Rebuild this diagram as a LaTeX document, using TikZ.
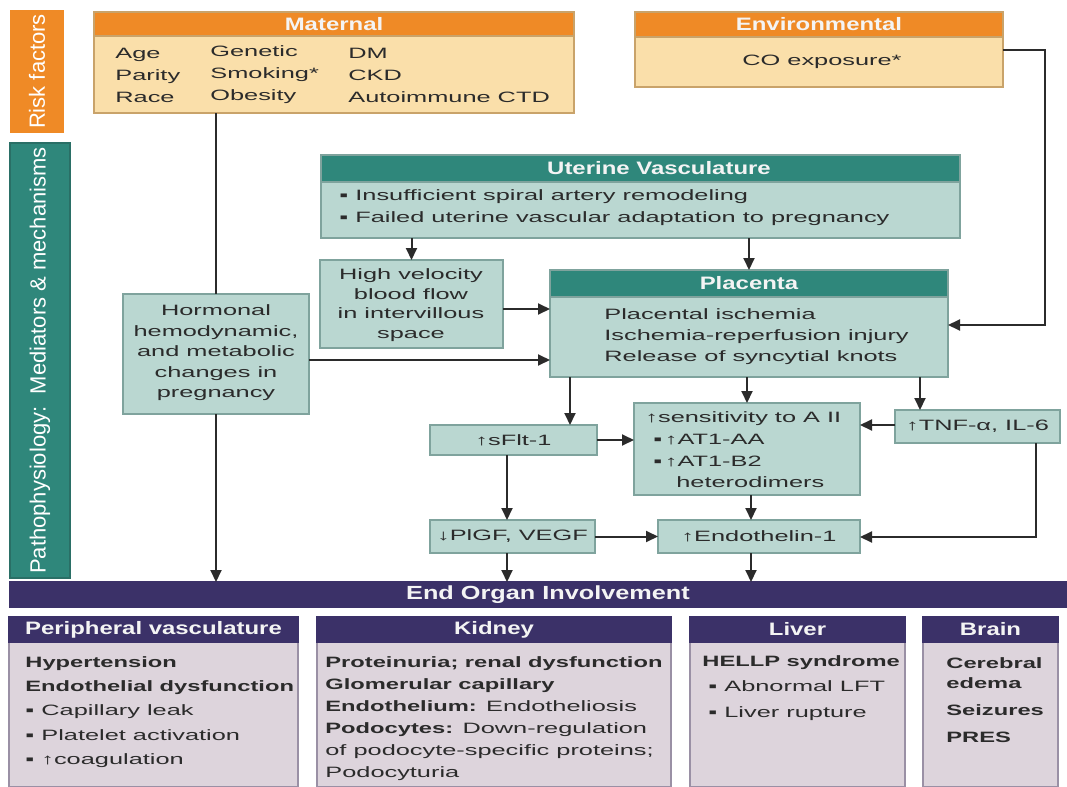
\documentclass[tikz,border=0pt]{standalone}
\usepackage{fontspec}
\setmainfont{Liberation Sans}[UprightFeatures={FakeStretch=1.69},BoldFeatures={FakeStretch=1.58}]
\newfontfamily\rotfont{Liberation Sans}
\newfontfamily\hdfont{Liberation Sans}[FakeStretch=1.33]
\usetikzlibrary{arrows.meta,fit}
\newcommand\myfs[2]{\fontsize{#1}{#2}\selectfont}
\definecolor{orH}{HTML}{EF8A26}
\definecolor{orB}{HTML}{FADFAA}
\definecolor{orL}{HTML}{C9A36A}
\definecolor{tlH}{HTML}{2F877B}
\definecolor{tlD}{HTML}{2A6F66}
\definecolor{tlB}{HTML}{BAD7D1}
\definecolor{tlL}{HTML}{7FA39D}
\definecolor{puH}{HTML}{3B3168}
\definecolor{puB}{HTML}{DDD4DC}
\definecolor{puL}{HTML}{9A90A5}
\definecolor{txtc}{HTML}{2B2B2B}
\definecolor{linec}{HTML}{2B2B2B}
\definecolor{hdc}{HTML}{F4F4F4}
\begin{document}
\begin{tikzpicture}[x=0.5pt,y=-0.5pt,
  box/.style={inner sep=0pt,outer sep=0pt,line width=0.6pt},
  orhead/.style={box,fill=orH,draw=orL},
  orbody/.style={box,fill=orB,draw=orL},
  tlhead/.style={box,fill=tlH,draw=tlL},
  tlbody/.style={box,fill=tlB,draw=tlL},
  puhead/.style={box,fill=puH,draw=puH},
  pubody/.style={box,fill=puB,draw=puL},
  txt/.style={inner sep=0pt,text=txtc,font=\myfs{7.5}{11}},
  hdtxt/.style={inner sep=0pt,text=hdc,font=\hdfont\bfseries\myfs{9}{10}},
  rottxt/.style={inner sep=0pt,text=white,rotate=90,font=\rotfont\myfs{11}{13}},
  arr/.style={draw=linec,line width=1pt,-{Triangle[length=6pt,width=5.5pt]}},
  ln/.style={draw=linec,line width=1pt}]

\useasboundingbox (0,0) rectangle (1067,787);
\fill[white] (0,0) rectangle (1067,787);

% side bars
\node[box,fill=orH,fit={(10,10)(64,133)}] (rfbar) {};
\node[rottxt] (rftxt) at (rfbar.center) {Risk factors};
\node[box,fill=tlH,draw=tlD,fit={(10,143)(70,578)}] (ppbar) {};
\node[rottxt] (pptxt) at (ppbar.center) {Pathophysiology:\ \ Mediators \& mechanisms};

% maternal
\node[orbody,fit={(94,36)(574,113)}] (matB) {};
\node[orhead,fit={(94,12)(574,36)}] (matH) {};
\node[hdtxt] (matT) at (matH.center) {Maternal};
\node[txt,align=left,anchor=west] (mc1) at (115,75) {Age\\Parity\\Race};
\node[txt,align=left,anchor=west] (mc2) at (210,75) {Genetic\\Smoking*\\Obesity};
\node[txt,align=left,anchor=west] (mc3) at (348,75) {DM\\CKD\\Autoimmune CTD};

% environmental
\node[orbody,fit={(635,37)(1003,87)}] (envB) {};
\node[orhead,fit={(635,12)(1003,37)}] (envH) {};
\node[hdtxt] (envT) at (envH.center) {Environmental};
\node[txt] (envX) at (822,62) {CO exposure*};

% uterine vasculature
\node[tlbody,fit={(321,182)(960,238)}] (uvB) {};
\node[tlhead,fit={(321,155)(960,182)}] (uvH) {};
\node[hdtxt] (uvT) at (659,168) {Uterine Vasculature};
\node[txt,align=left,anchor=west] (uvX) at (339,208) {▪ Insufficient spiral artery remodeling\\▪ Failed uterine vascular adaptation to pregnancy};

% high velocity
\node[tlbody,fit={(320,260)(503,348)}] (hvB) {};
\node[txt,align=center,font=\myfs{7.5}{9.75}] (hvX) at (411,305) {High velocity\\blood flow\\in intervillous\\space};

% placenta
\node[tlbody,fit={(550,297)(948,377)}] (plB) {};
\node[tlhead,fit={(550,270)(948,297)}] (plH) {};
\node[hdtxt] (plT) at (plH.center) {Placenta};
\node[txt,align=left,anchor=west,font=\myfs{7.5}{10.5}] (plX) at (604,337) {Placental ischemia\\Ischemia-reperfusion injury\\Release of syncytial knots};

% hormonal
\node[tlbody,fit={(123,294)(309,414)}] (horB) {};
\node[txt,align=center,font=\myfs{7.5}{10.25}] (horX) at (216,353) {Hormonal\\hemodynamic,\\and metabolic\\changes in\\pregnancy};

% mediators
\node[tlbody,fit={(430,425)(597,455)}] (sfB) {};
\node[txt] (sfX) at (sfB.center) {↑sFlt-1};
\node[tlbody,fit={(634,403)(860,495)}] (seB) {};
\node[txt,align=left,anchor=west,font=\myfs{7.5}{10.8}] (seX) at (645,450) {↑sensitivity to A II\\\hspace*{4pt}▪\,↑AT1-AA\\\hspace*{4pt}▪\,↑AT1-B2\\\hspace*{15.5pt}heterodimers};
\node[tlbody,fit={(895,410)(1060,443)}] (tnB) {};
\node[txt] (tnX) at (tnB.center) {↑TNF-α, IL-6};
\node[tlbody,fit={(430,520)(595,553)}] (pgB) {};
\node[txt] (pgX) at (pgB.center) {↓PlGF, VEGF};
\node[tlbody,fit={(658,520)(860,553)}] (etB) {};
\node[txt] (etX) at (etB.center) {↑Endothelin-1};

% end organ bar
\node[puhead,fit={(10,582)(1067,607)}] (eo) {};
\node[hdtxt,font=\hdfont\bfseries\myfs{9.5}{10}] (eoT) at (548,595) {End Organ Involvement};

% bottom panels
\node[pubody,fit={(9,642)(298,787)}] (pvB) {};
\node[puhead,fit={(9,617)(298,642)}] (pvH) {};
\node[hdtxt] (pvT) at (pvH.center) {Peripheral vasculature};
\node[txt,align=left,anchor=west,font=\myfs{7.5}{12.1}] (pvX) at (25,712) {\textbf{Hypertension}\\\textbf{Endothelial dysfunction}\\▪ Capillary leak\\▪ Platelet activation\\▪ ↑coagulation};

\node[pubody,fit={(317,642)(671,787)}] (kiB) {};
\node[puhead,fit={(317,617)(671,642)}] (kiH) {};
\node[hdtxt] (kiT) at (kiH.center) {Kidney};
\node[txt,align=left,anchor=west,font=\myfs{7.5}{11}] (kiX) at (325,719) {\textbf{Proteinuria; renal dysfunction}\\\textbf{Glomerular capillary}\\\textbf{Endothelium:} Endotheliosis\\\textbf{Podocytes:} Down-regulation\\of podocyte-specific proteins;\\Podocyturia};

\node[pubody,fit={(690,642)(905,787)}] (liB) {};
\node[puhead,fit={(690,617)(905,642)}] (liH) {};
\node[hdtxt] (liT) at (liH.center) {Liver};
\node[txt,align=left,anchor=west,font=\myfs{7.5}{12.75}] (liX) at (702,688) {\textbf{HELLP syndrome}\\\hspace*{3pt}▪ Abnormal LFT\\\hspace*{3pt}▪ Liver rupture};

\node[pubody,fit={(923,642)(1058,787)}] (brB) {};
\node[puhead,fit={(923,617)(1058,642)}] (brH) {};
\node[hdtxt] (brT) at (brH.center) {Brain};
\node[txt,align=left,anchor=west,font=\myfs{7.5}{10}\bfseries] (brX) at (946,700) {Cerebral\\edema\\[3.5pt]Seizures\\[3.5pt]PRES};

% connectors
\coordinate (envk) at (1045,50);
\coordinate (plk) at (1045,325);
\coordinate (tk) at (1036,537);
\draw[ln] (horB.north |- matB.south) -- (horB.north);
\draw[arr] (horB.south) -- (horB.south |- eo.north);
\draw[arr] (envB.east |- envk) -- (envk) -- (plk) -- (plB.east |- plk);
\draw[arr] (hvB.north |- uvB.south) -- (hvB.north);
\draw[arr] (plH.north |- uvB.south) -- (plH.north);
\draw[arr] (hvB.east |- 0,309) -- (plB.west |- 0,309);
\draw[arr] (horB.east |- 0,360) -- (plB.west |- 0,360);
\draw[arr] (plB.south -| 570,0) -- (sfB.north -| 570,0);
\draw[arr] (plB.south -| seB.north) -- (seB.north);
\draw[arr] (plB.south -| 920,0) -- (tnB.north -| 920,0);
\draw[arr] (tnB.west |- 0,425) -- (seB.east |- 0,425);
\draw[arr] (sfB.east) -- (sfB.east -| seB.west);
\draw[arr] (sfB.south -| 507,0) -- (pgB.north -| 507,0);
\draw[arr] (pgB.east) -- (etB.west);
\draw[arr] (seB.south -| 751,0) -- (etB.north -| 751,0);
\draw[arr] (tnB.south -| tk) -- (tk) -- (etB.east |- tk);
\draw[arr] (pgB.south -| 507,0) -- (eo.north -| 507,0);
\draw[arr] (etB.south -| 751,0) -- (eo.north -| 751,0);
\end{tikzpicture}
\end{document}
